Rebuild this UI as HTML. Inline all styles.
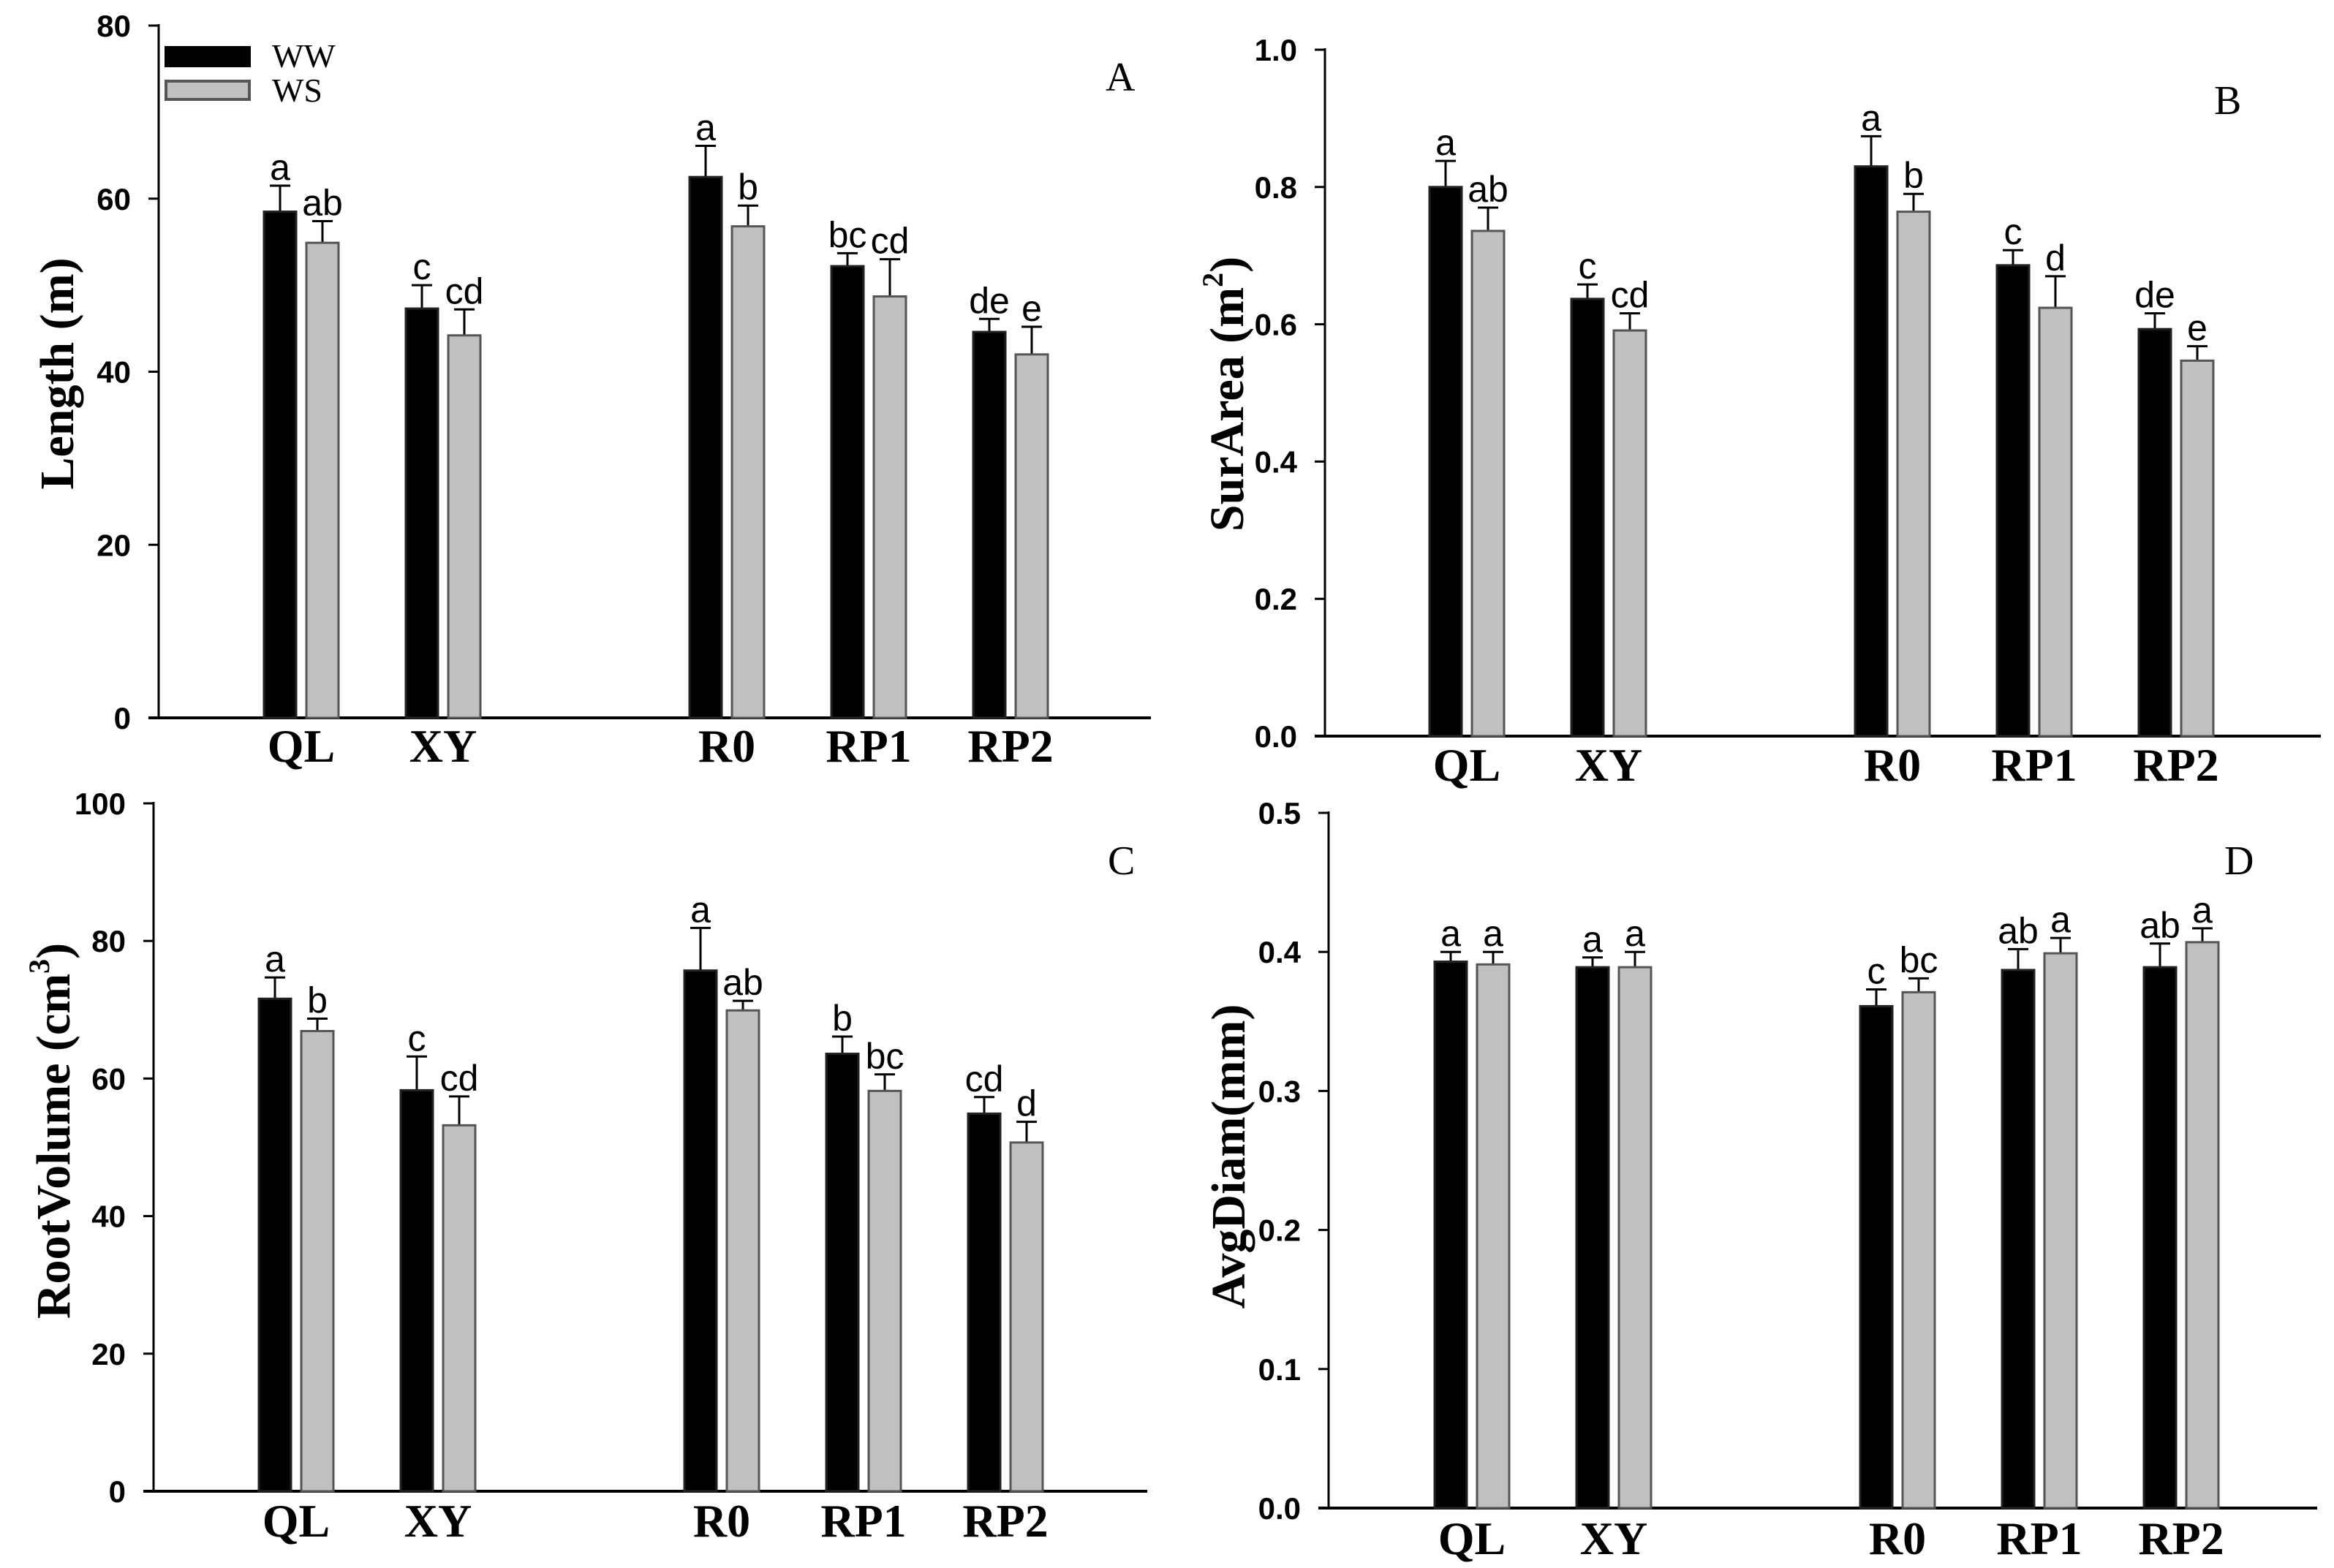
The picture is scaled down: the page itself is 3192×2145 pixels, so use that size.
<!DOCTYPE html>
<html><head><meta charset="utf-8"><style>
html,body{margin:0;padding:0;background:#fff;}
svg{display:block;}
</style></head><body>
<svg id="chart" width="3192" height="2145" viewBox="0 0 3192 2145" xmlns="http://www.w3.org/2000/svg">
<rect width="3192" height="2145" fill="#fff"/>
<g>
<rect x="225" y="63" width="118" height="29" fill="#000"/>
<text x="372" y="92" font-family="Liberation Serif, serif" font-size="46">WW</text>
<rect x="227" y="111" width="114" height="25" fill="#c0c0c0" stroke="#555" stroke-width="4"/>
<text x="372" y="139" font-family="Liberation Serif, serif" font-size="46">WS</text>
</g>
</svg>
<script>
const categories = ["QL","XY","R0","RP1","RP2"];
const slots = [0,1,3,4,5];
const lenWW = [58.5,47.3,62.5,52.2,44.6];
const lenWWerr = [3.0,2.7,3.6,1.5,1.5];
const lenWS = [54.9,44.2,56.8,48.7,42.0];
const lenWSerr = [2.5,3.0,2.4,4.3,3.2];
const lenWWlet = ["a","c","a","bc","de"];
const lenWSlet = ["ab","cd","b","cd","e"];
const lenTicks = [0,20,40,60,80];
const areaWW = [0.800,0.637,0.830,0.686,0.593];
const areaWWerr = [0.038,0.021,0.044,0.022,0.023];
const areaWS = [0.736,0.591,0.764,0.624,0.547];
const areaWSerr = [0.034,0.025,0.026,0.046,0.021];
const areaWWlet = ["a","c","a","c","de"];
const areaWSlet = ["ab","cd","b","d","e"];
const areaTicks = [0.0,0.2,0.4,0.6,0.8,1.0];
const volWW = [71.6,58.3,75.7,63.6,54.9];
const volWWerr = [3.1,4.9,6.2,2.5,2.4];
const volWS = [66.9,53.2,69.9,58.2,50.7];
const volWSerr = [1.8,4.2,1.4,2.4,3.0];
const volWWlet = ["a","c","a","b","cd"];
const volWSlet = ["b","cd","ab","bc","d"];
const volTicks = [0,20,40,60,80,100];
const diamWW = [0.393,0.389,0.361,0.387,0.389];
const diamWWerr = [0.007,0.007,0.012,0.015,0.017];
const diamWS = [0.391,0.389,0.371,0.399,0.407];
const diamWSerr = [0.009,0.011,0.010,0.011,0.010];
const diamWWlet = ["a","a","c","ab","ab"];
const diamWSlet = ["a","a","bc","a","a"];
const diamTicks = [0.0,0.1,0.2,0.3,0.4,0.5];

const NS="http://www.w3.org/2000/svg";
const svg=document.getElementById('chart');
function mk(tag,attrs,parent){const e=document.createElementNS(NS,tag);for(const k in attrs)e.setAttribute(k,attrs[k]);(parent||svg).appendChild(e);return e;}

function panel(p){
  const g=mk('g',{});
  
  
  const ys=v=>p.y0-(v-p.min)/(p.max-p.min)*(p.y0-p.y1);
  const xs=i=>p.ax+p.off+slots[i]*194;
  const ya=mk('line',{x1:p.ax,y1:p.y1-2,x2:p.ax,y2:p.y0+2,stroke:'#000','stroke-width':3},g);
  
  
  const xa=mk('line',{x1:p.ax-14,y1:p.y0,x2:p.xend,y2:p.y0,stroke:'#000','stroke-width':4},g);
  
  
  p.ticks.forEach(t=>{
    const y=ys(t);
    const tk=mk('line',{x1:p.ax-14,y1:y,x2:p.ax,y2:y,stroke:'#000','stroke-width':3},g);
    
    
    const tl=mk('text',{x:p.ax-38,y:y+15,'text-anchor':'end','font-family':'Liberation Sans, sans-serif','font-weight':'bold','font-size':42},g);
    tl.textContent=p.dec?t.toFixed(1):String(t);
    
    
  });
  function series(vals,errs,lets,dx,fill,stroke,name){
    vals.forEach((v,i)=>{
      const cx=xs(i)+dx, top=ys(v), et=ys(v+errs[i]);
      const eb=mk('line',{x1:cx,y1:top,x2:cx,y2:et,stroke:'#000','stroke-width':3},g);
      
      
      const ec=mk('line',{x1:cx-14,y1:et,x2:cx+14,y2:et,stroke:'#000','stroke-width':3},g);
      
      
      const r=mk('rect',{x:cx-22,y:top,width:44,height:p.y0-top,fill:fill,stroke:stroke,'stroke-width':3},g);
      
      
      const lt=mk('text',{x:cx,y:et-8,'text-anchor':'middle','font-family':'Liberation Sans, sans-serif','font-size':50},g);
      lt.textContent=lets[i];
      
      
    });
  }
  series(p.ww,p.wwe,p.wwl,-29,'#000','#222','ww');
  series(p.ws,p.wse,p.wsl,29,'#c0c0c0','#555','ws');
  categories.forEach((c,i)=>{
    const x=xs(i);
    const t=mk('text',{x:x,y:p.cy,'text-anchor':'middle','font-family':'Liberation Serif, serif','font-weight':'bold','font-size':64},g);
    t.textContent=c;
    
    
  });
  const tt=mk('text',{x:0,y:0,'text-anchor':'middle','font-family':'Liberation Serif, serif','font-weight':'bold','font-size':66,transform:`translate(${p.tx} ${p.ty}) rotate(-90)`},g);
  tt.innerHTML=p.title;
  
  
  const pl=mk('text',{x:p.lx,y:p.ly,'font-family':'Liberation Serif, serif','font-size':56},g);
  pl.textContent=p.id;
  
  
}
panel({id:'A',ax:217,off:195,xend:1574,y0:982,y1:35,min:0,max:80,ticks:lenTicks,dec:false,ww:lenWW,wwe:lenWWerr,wwl:lenWWlet,ws:lenWS,wse:lenWSerr,wsl:lenWSlet,cy:1042,title:'Length (m)',tx:100,ty:511,lx:1512,ly:124});
panel({id:'B',ax:1812,off:194,xend:3174,y0:1007,y1:68,min:0,max:1,ticks:areaTicks,dec:true,ww:areaWW,wwe:areaWWerr,wwl:areaWWlet,ws:areaWS,wse:areaWSerr,wsl:areaWSlet,cy:1068,title:'SurArea (m<tspan dy="-28" font-size="40">2</tspan><tspan dy="28">)</tspan>',tx:1700,ty:539,lx:3028,ly:156});
panel({id:'C',ax:210,off:195,xend:1569,y0:2040,y1:1099,min:0,max:100,ticks:volTicks,dec:false,ww:volWW,wwe:volWWerr,wwl:volWWlet,ws:volWS,wse:volWSerr,wsl:volWSlet,cy:2102,title:'RootVolume (cm<tspan dy="-28" font-size="40">3</tspan><tspan dy="28">)</tspan>',tx:95,ty:1547,lx:1515,ly:1196});
panel({id:'D',ax:1817,off:196,xend:3169,y0:2063,y1:1112,min:0,max:0.5,ticks:diamTicks,dec:true,ww:diamWW,wwe:diamWWerr,wwl:diamWWlet,ws:diamWS,wse:diamWSerr,wsl:diamWSlet,cy:2126,title:'AvgDiam(mm)',tx:1702,ty:1582,lx:3042,ly:1196});
</script>
</body></html>
